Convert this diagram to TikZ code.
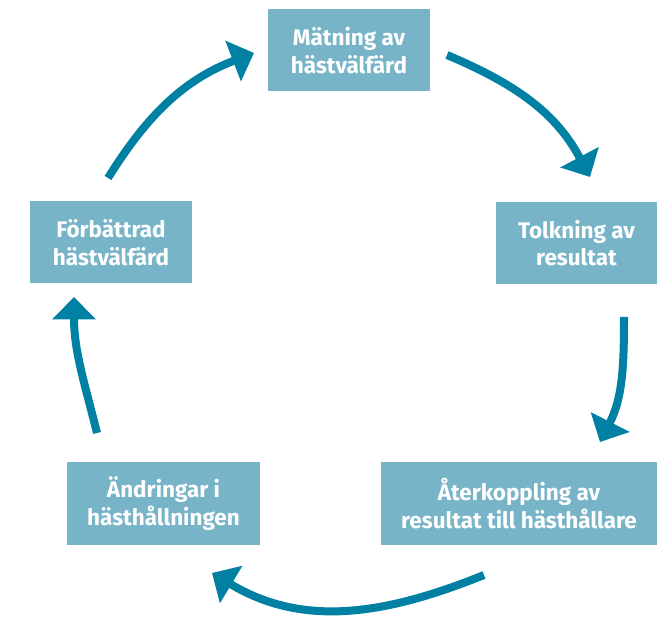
\documentclass[tikz,border=0pt]{standalone}
\usepackage{fontspec}
\setmainfont{Fira Sans}
\usetikzlibrary{arrows.meta}
\definecolor{boxteal}{RGB}{120,180,200}
\definecolor{arrowteal}{RGB}{0,128,162}
\begin{document}
\begin{tikzpicture}[x=0.025cm, y=0.025cm,
    stage/.style={fill=boxteal, text=white, align=center, inner sep=0pt,
        minimum height=2.05cm, font=\bfseries\fontsize{16}{19.6}\selectfont},
    flow/.style={arrowteal, line width=0.2cm, -{Triangle[length=0.56cm, width=1.06cm]}}]
    \useasboundingbox (0,0) rectangle (672,622);
    % the five stages
    \node[stage, minimum width=4.05cm]  (matning)   at (349,571.5) {Mätning av\\hästvälfärd};
    \node[stage, minimum width=4.025cm] (tolkning)  at (576.5,379) {Tolkning av\\resultat};
    \node[stage, minimum width=6.9cm]   (aterkoppl) at (519,118.5) {Återkoppling av\\resultat till hästhållare};
    \node[stage, minimum width=4.825cm] (andringar) at (163.5,118.5) {Ändringar i\\hästhållningen};
    \node[stage, minimum width=4.05cm]  (forbattr)  at (111,379.5) {Förbättrad\\hästvälfärd};
    % arrow ends
    \coordinate (mt1) at (447,567);  \coordinate (mt2) at (590,445);
    \coordinate (ta1) at (624,305);  \coordinate (ta2) at (600,180);
    \coordinate (aa1) at (484,47);   \coordinate (aa2) at (212,49);
    \coordinate (af1) at (97,189);   \coordinate (af2) at (74,325);
    \coordinate (fm1) at (108,444);  \coordinate (fm2) at (254,569);
    \draw[flow] (mt1) to[out=-23, in=118] (mt2);
    \draw[flow] (ta1) to[out=-90, in=63] (ta2);
    \draw[flow] (aa1) to[out=-158, in=-31] (aa2);
    \draw[flow] (af1) to[out=104, in=-90] (af2);
    \draw[flow] (fm1) to[out=58, in=-159] (fm2);
\end{tikzpicture}
\end{document}
